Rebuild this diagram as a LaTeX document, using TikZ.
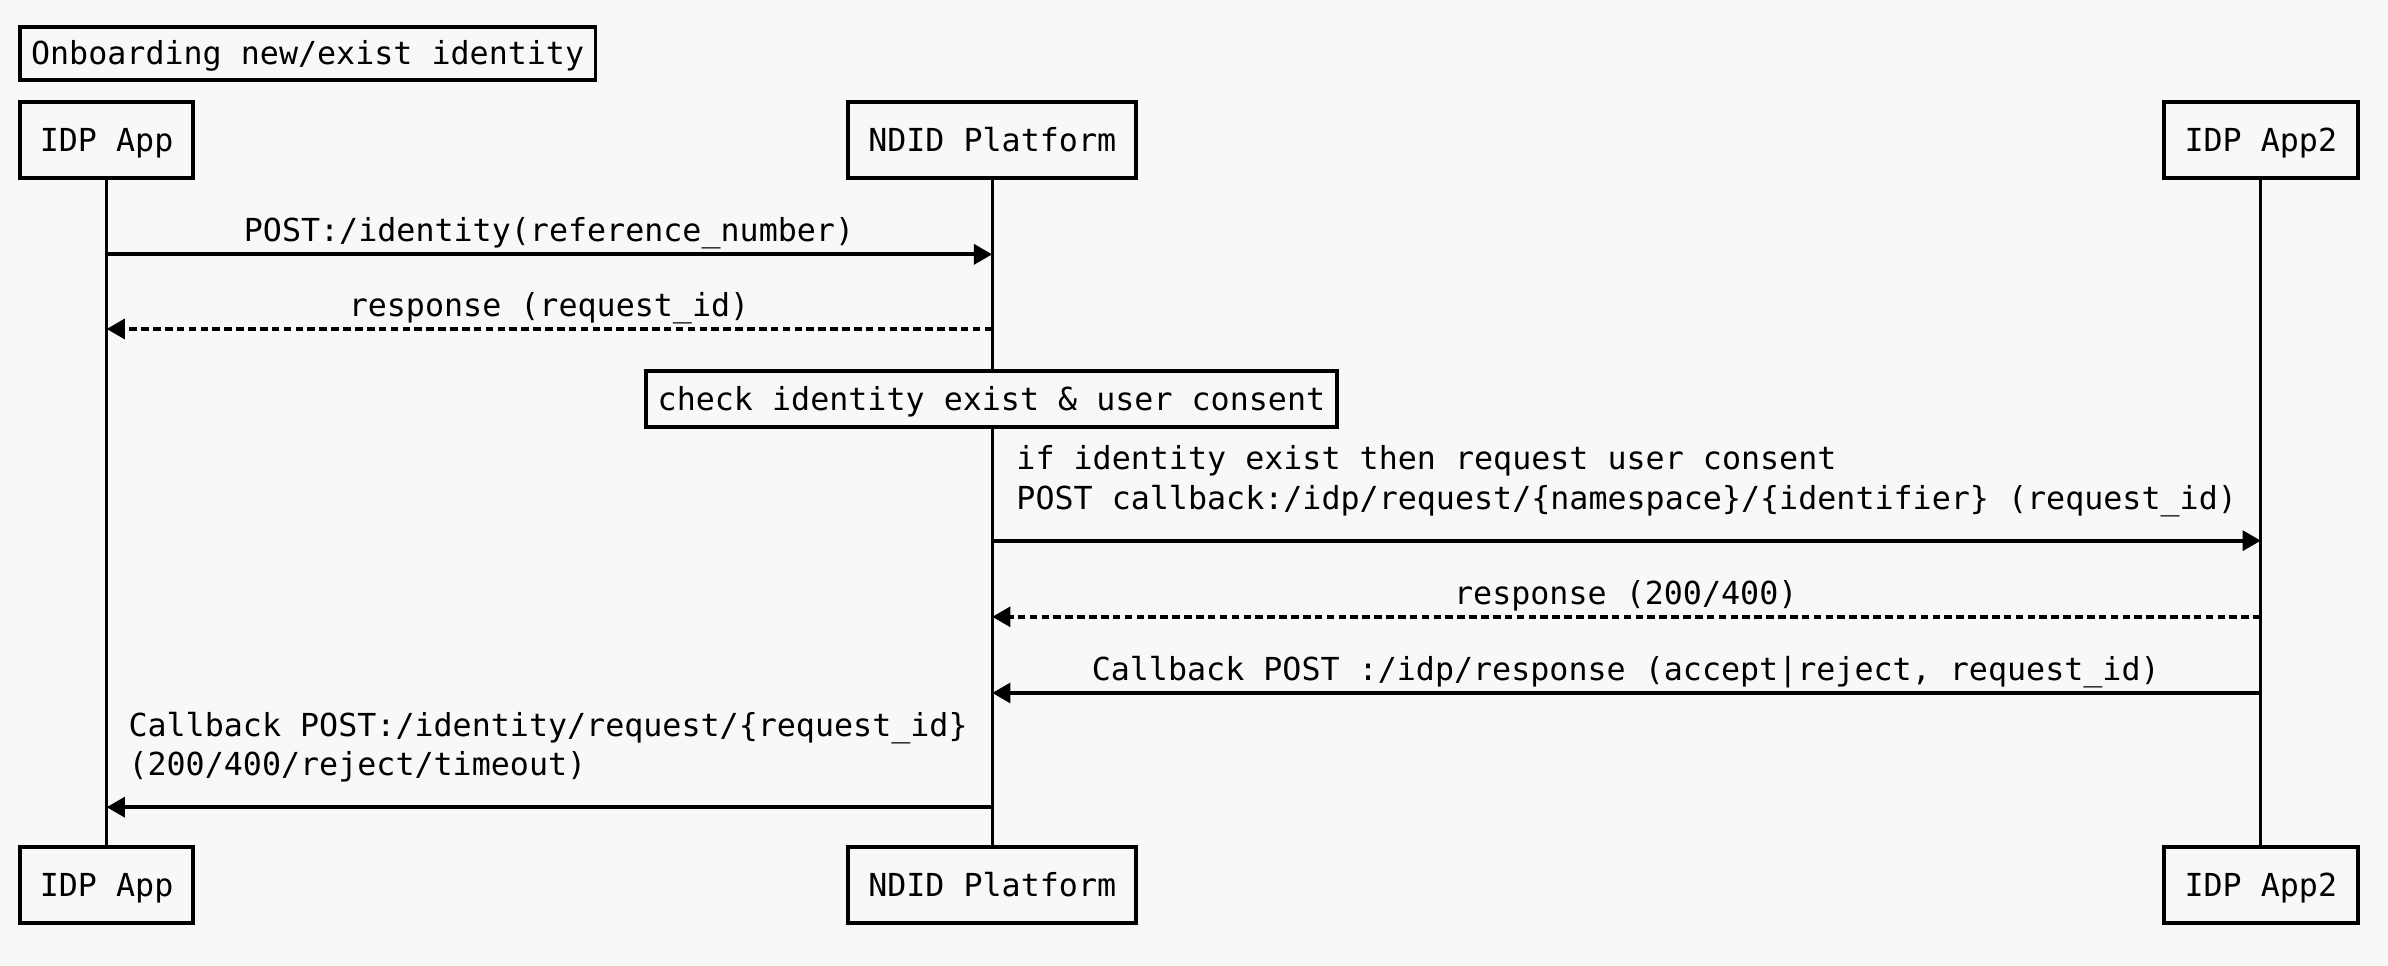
\documentclass[tikz,border=0pt]{standalone}
\usepackage{fontspec}
\setmonofont{DejaVu Sans Mono}
\usetikzlibrary{arrows.meta}
\definecolor{bg}{RGB}{248,248,248}
\begin{document}
\begin{tikzpicture}[x=0.5pt,y=-0.5pt,
  every node/.style={font=\ttfamily\fontsize{10.4}{13}\selectfont},
  actor/.style={draw,line width=1.3pt,fill=bg,minimum height=25pt,inner sep=0pt,align=center,text height=8.6pt,text depth=1.2pt},
  note/.style={draw,line width=1.3pt,fill=bg,inner sep=0pt,align=center,text height=8.6pt,text depth=1.2pt},
  lifeline/.style={line width=1pt},
  msg/.style={line width=1.3pt,-{Triangle[length=6pt,width=6.5pt]}},
  reply/.style={msg,dash pattern=on 2.5pt off 1.4pt},
  lbl/.style={inner sep=0pt,text height=8.6pt,text depth=1.2pt}]
\fill[bg] (0,0) rectangle (1568,634);
\useasboundingbox (0,0) rectangle (1568,634);

\node[note,minimum width=189pt,minimum height=17.5pt] (title) at (202,35) {Onboarding new/exist identity};

\node[actor,minimum width=57pt] (a1) at (70,92) {IDP App};
\node[actor,minimum width=94.5pt] (a2) at (651.5,92) {NDID Platform};
\node[actor,minimum width=63.5pt] (a3) at (1484.5,92) {IDP App2};
\node[actor,minimum width=57pt] (b1) at (70,581) {IDP App};
\node[actor,minimum width=94.5pt] (b2) at (651.5,581) {NDID Platform};
\node[actor,minimum width=63.5pt] (b3) at (1484.5,581) {IDP App2};

\draw[lifeline] (a1.south) -- (b1.north);
\draw[lifeline] (a2.south) -- (b2.north);
\draw[lifeline] (a3.south) -- (b3.north);

\node[note,minimum width=227pt,minimum height=18.5pt] (chk) at (651,262) {check identity exist \& user consent};

% messages
\draw[msg] (a1 |- 0,167) -- (a2 |- 0,167);
\node[lbl] (l1) at (360.5,151) {POST:/identity(reference\_number)};

\draw[reply] (a2 |- 0,216) -- (a1 |- 0,216);
\node[lbl] (l2) at (360.5,200.5) {response (request\_id)};

\node[lbl,anchor=west,align=left,text height=,text depth=] (l3) at (667,316) {if identity exist then request user consent\\POST callback:/idp/request/\{namespace\}/\{identifier\} (request\_id)};
\draw[msg] (a2 |- 0,355) -- (a3 |- 0,355);

\draw[reply] (a3 |- 0,405) -- (a2 |- 0,405);
\node[lbl] (l4) at (1067.5,389.5) {response (200/400)};

\draw[msg] (a3 |- 0,455) -- (a2 |- 0,455);
\node[lbl] (l5) at (1067.5,439.5) {Callback POST :/idp/response (accept|reject, request\_id)};

\node[lbl,anchor=west,align=left,text height=,text depth=] (l6) at (84,490.5) {Callback POST:/identity/request/\{request\_id\}\\(200/400/reject/timeout)};
\draw[msg] (a2 |- 0,530) -- (a1 |- 0,530);
\end{tikzpicture}
\end{document}
